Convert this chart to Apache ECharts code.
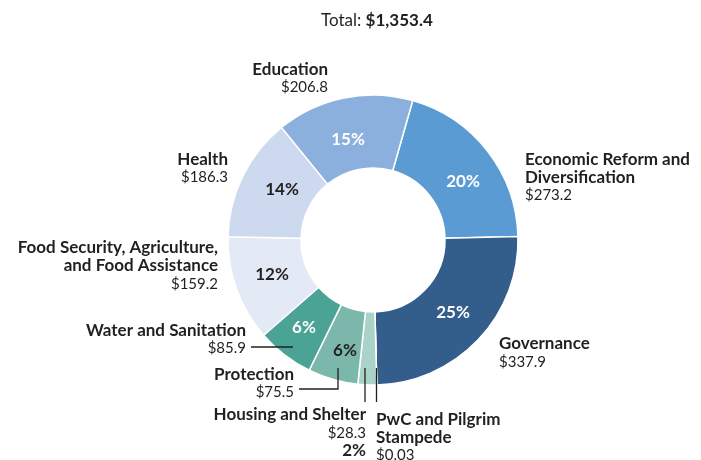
<!DOCTYPE html>
<html>
<head>
<meta charset="utf-8">
<script src="https://cdn.jsdelivr.net/npm/echarts@6/dist/echarts.min.js"></script>
<style>
  html, body { margin: 0; padding: 0; background: #fff; }
  #chart { width: 701px; height: 460px; }
</style>
</head>
<body>
<div id="chart"></div>
<script>
// spending by sector, clockwise from the top
const categories = [
    'Economic Reform and\nDiversification',
    'Governance',
    'PwC and Pilgrim\nStampede',
    'Housing and Shelter',
    'Protection',
    'Water and Sanitation',
    'Food Security, Agriculture,\nand Food Assistance',
    'Health',
    'Education'
];
const values = [273.2, 337.9, 0.03, 28.3, 75.5, 85.9, 159.2, 186.3, 206.8];
const totalText = '$1,353.4';

const colors = ['#5b9bd3', '#335e8c', '#c3e2da', '#a9d3c9', '#7bb7ab', '#4ba395', '#e4e9f6', '#cdd9ef', '#8cb0de'];
const pctColors = ['#fff', '#fff', '#231f20', '#231f20', '#231f20', '#fff', '#231f20', '#231f20', '#fff'];

// percent label centres (null = shown with the outer label or not at all)
const pctSpots = [
    [463, 182], [453, 313], null, null, [345, 351], [304, 328], [272, 275], [282, 190], [348, 140]
];
// where each outer label sits: [x, top, align]
const labelSpots = [
    [525, 150.5, 'left'],
    [499, 335, 'left'],
    [376, 410.5, 'left'],
    [366, 406, 'right'],
    [294, 365.5, 'right'],
    [246, 321.5, 'right'],
    [218, 239, 'right'],
    [228, 150.5, 'right'],
    [328, 60.5, 'right']
];
// leader lines
const leaders = [
    null, null,
    [[376.5, 402], [376.5, 385], [376.5, 368]],
    [[365, 402], [365, 385], [365, 368]],
    [[299, 389], [338, 389], [338, 368]],
    [[251, 347], [272, 347], [293, 347]],
    null, null, null
];

const dark = '#231f20';
const font = 'Lato, "Noto Sans", sans-serif';

const chart = echarts.init(document.getElementById('chart'));

const sum = values.reduce((a, b) => a + b, 0);

chart.setOption({
    animation: false,
    title: {
        text: '{a|Total: }{b|' + totalText + '}',
        left: 321,
        top: 12,
        padding: 0,
        textStyle: {
            rich: {
                a: {fontFamily: font, fontSize: 17, fontWeight: 'normal', color: dark},
                b: {fontFamily: font, fontSize: 17, fontWeight: 'bold', color: dark}
            }
        }
    },
    series: [{
        // visible ring with percentages
        type: 'pie',
        z: 1,
        center: [373, 240],
        radius: [72, 145],
        startAngle: 74.1,
        silent: true,
        itemStyle: {borderColor: '#fff', borderWidth: 1.5},
        label: {
            position: 'inside',
            fontFamily: font,
            fontSize: 17,
            fontWeight: 'bold',
            formatter: p => pctSpots[p.dataIndex] ? Math.round(p.percent) + '%' : ''
        },
        labelLine: {show: false},
        labelLayout: p => {
            const s = pctSpots[p.dataIndex];
            return s ? {x: s[0], y: s[1], align: 'center', verticalAlign: 'middle'} : {};
        },
        data: categories.map((c, i) => ({
            name: c,
            value: values[i],
            itemStyle: {color: colors[i]},
            label: {color: pctColors[i]}
        }))
    }, {
        // names, amounts and leader lines, drawn above the ring
        type: 'pie',
        z: 3,
        center: [373, 240],
        radius: [72, 145],
        startAngle: 74.1,
        silent: true,
        itemStyle: {color: 'rgba(0,0,0,0)', borderWidth: 0},
        label: {
            position: 'outside',
            overflow: 'none',
            fontFamily: font,
            color: dark,
            formatter: p => {
                const lines = p.name.split('\n').map(l => '{n|' + l + '}');
                lines.push('{v|$' + p.value + '}');
                if (p.dataIndex === 3) lines.push('{n|' + Math.round(p.value / sum * 100) + '%}');
                return lines.join('\n');
            },
            rich: {
                n: {fontFamily: font, fontSize: 17, fontWeight: 'bold', color: dark, lineHeight: 18},
                v: {fontFamily: font, fontSize: 15, color: dark, lineHeight: 18}
            }
        },
        labelLine: {show: true, lineStyle: {color: dark, width: 1.3}},
        labelLayout: p => {
            const s = labelSpots[p.dataIndex];
            const out = {x: s[0], y: s[1], align: s[2], verticalAlign: 'top'};
            if (leaders[p.dataIndex]) out.labelLinePoints = leaders[p.dataIndex];
            return out;
        },
        data: categories.map((c, i) => ({
            name: c,
            value: values[i],
            label: {align: labelSpots[i][2]},
            labelLine: {show: !!leaders[i]}
        }))
    }]
});
</script>
</body>
</html>
